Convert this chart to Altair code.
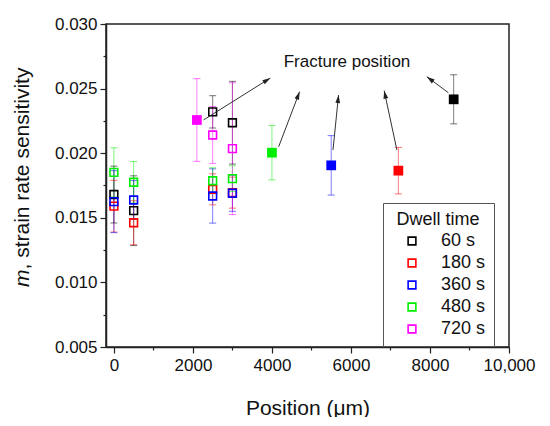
import math
import altair as alt
import pandas as pd

# ---------------- data ----------------
dwell = ["60 s", "180 s", "360 s", "480 s", "720 s"]
colors = ["#000000", "#ff0000", "#0000ff", "#00ee00", "#ff00ff"]

pos_open = [0, 500, 2500, 3000]
pos_720 = [2500, 3000]

m_60 = [0.0168, 0.01555, 0.0232, 0.02236]
e_60 = [0.0022, 0.0027, 0.00125, 0.0032]
m_180 = [0.0159, 0.01462, 0.0172, 0.01695]
e_180 = [0.0020, 0.0017, 0.0012, 0.0012]
m_360 = [0.01625, 0.01638, 0.01669, 0.0169]
e_360 = [0.0024, 0.0015, 0.0021, 0.0014]
m_480 = [0.01852, 0.01775, 0.01787, 0.01803]
e_480 = [0.0019, 0.0016, 0.0010, 0.0010]
m_720 = [0.02141, 0.02035]
e_720 = [0.0022, 0.0051]

# fracture position (filled squares)
frac_dwell = ["60 s", "180 s", "360 s", "480 s", "720 s"]
frac_pos = [8600, 7200, 5500, 4000, 2100]
frac_m = [0.02417, 0.01865, 0.01906, 0.02004, 0.02257]
frac_e = [0.0019, 0.0018, 0.0023, 0.0021, 0.0032]

# annotation arrows (from point towards label)
arr_x0 = [2267, 4170, 5545, 7162, 8466]
arr_y0 = [0.02257, 0.02050, 0.02025, 0.02025, 0.02468]
arr_x1 = [3960, 4700, 5686, 6841, 7920]
arr_y1 = [0.02582, 0.02476, 0.02450, 0.02484, 0.02592]

label_text = ["Fracture position"]
label_x = [5900]
label_y = [0.02708]

x_major = [0, 2000, 4000, 6000, 8000, 10000]
x_minor = [1000, 3000, 5000, 7000, 9000]
y_major = [0.005, 0.010, 0.015, 0.020, 0.025, 0.030]
y_minor = [0.0075, 0.0125, 0.0175, 0.0225, 0.0275]

X_DOM = [-200, 10000]
Y_DOM = [0.005, 0.030]
W, H = 403, 323

# ---------------- tables ----------------
rows = []
for d, ms, es, ps in [
    ("60 s", m_60, e_60, pos_open),
    ("180 s", m_180, e_180, pos_open),
    ("360 s", m_360, e_360, pos_open),
    ("480 s", m_480, e_480, pos_open),
    ("720 s", m_720, e_720, pos_720),
]:
    for p, m, e in zip(ps, ms, es):
        rows.append({"dwell": d, "pos": p, "m": m, "lo": m - e, "hi": m + e})
open_df = pd.DataFrame(rows)

frac_df = pd.DataFrame({
    "dwell": frac_dwell, "pos": frac_pos, "m": frac_m,
    "lo": [m - e for m, e in zip(frac_m, frac_e)],
    "hi": [m + e for m, e in zip(frac_m, frac_e)],
})
all_df = pd.concat([open_df, frac_df], ignore_index=True)

sx = W / (X_DOM[1] - X_DOM[0])
sy = H / (Y_DOM[1] - Y_DOM[0])
line_rows, head_rows = [], []
for i, (a, b, c, d) in enumerate(zip(arr_x0, arr_y0, arr_x1, arr_y1)):
    line_rows.append({"id": i, "o": 0, "x": a, "y": b})
    line_rows.append({"id": i, "o": 1, "x": c, "y": d})
    dx = (c - a) * sx
    dy = (d - b) * sy
    ang = math.degrees(math.atan2(dx, dy)) % 360
    head_rows.append({"x": c, "y": d, "ang": ang})
line_df = pd.DataFrame(line_rows)
head_df = pd.DataFrame(head_rows)
label_df = pd.DataFrame({"t": label_text, "x": label_x, "y": label_y})

# ---------------- chart ----------------
xs = alt.Scale(domain=X_DOM, nice=False, zero=False)
ys = alt.Scale(domain=Y_DOM, nice=False, zero=False)
cs_legend = alt.Scale(domain=dwell, range=colors)
# same mapping, listed in reverse so it stays a separate (legend-less) scale
cs_plain = alt.Scale(domain=dwell[::-1], range=colors[::-1])

x_axis = alt.Axis(values=x_major, title="Position (μm)", grid=False, labelFlush=False,
                  labelExpr="datum.value >= 10000 ? format(datum.value, ',') : format(datum.value, 'd')",
                  tickSize=6, labelPadding=4, titlePadding=24,
                  labelFontSize=17, titleFontSize=21)
y_axis = alt.Axis(values=y_major, title=", strain rate sensitivity", grid=False, labelFlush=False,
                  format=".3f", tickSize=6, labelPadding=3,
                  labelFontSize=17, titleFontSize=21,
                  titleX=-84, titleY=245, titleAngle=270, titleAlign="left",
                  titleBaseline="middle")

X = alt.X("pos:Q", scale=xs, axis=x_axis)
Y = alt.Y("m:Q", scale=ys, axis=y_axis)
C_plain = alt.Color("dwell:N", scale=cs_plain, legend=None)

legend = alt.Legend(title="Dwell time", orient="none", legendX=277, legendY=179,
                    strokeColor="#555", fillColor="white", padding=8,
                    titleFontSize=18, titleFontWeight="normal", titlePadding=3,
                    labelFontSize=18, labelAlign="left", symbolType="square", symbolSize=60,
                    symbolStrokeWidth=1.6, symbolOffset=12, labelOffset=20,
                    symbolOpacity=1, rowPadding=4, titleAnchor="middle")

base_all = alt.Chart(all_df)

err = base_all.mark_rule(strokeWidth=1, opacity=0.5).encode(
    x=X, y=alt.Y("lo:Q", scale=ys, axis=y_axis), y2="hi:Q", color=C_plain)
cap_lo = base_all.mark_tick(orient="horizontal", size=7, thickness=1, opacity=0.55).encode(
    x=X, y=alt.Y("lo:Q", scale=ys, axis=y_axis), color=C_plain)
cap_hi = base_all.mark_tick(orient="horizontal", size=7, thickness=1, opacity=0.55).encode(
    x=X, y=alt.Y("hi:Q", scale=ys, axis=y_axis), color=C_plain)

hollow = alt.Chart(open_df).mark_square(filled=False, size=60, strokeWidth=1.6, opacity=1).encode(
    x=X, y=Y, stroke=alt.Stroke("dwell:N", scale=cs_legend, legend=legend, sort=dwell))
filled = alt.Chart(frac_df).mark_square(filled=True, size=95, opacity=1).encode(
    x=X, y=Y, color=C_plain)

arrows = alt.Chart(line_df).mark_line(color="#333333", strokeWidth=1).encode(
    x=alt.X("x:Q", scale=xs, axis=x_axis), y=alt.Y("y:Q", scale=ys, axis=y_axis),
    detail="id:N", order="o:Q")
heads = alt.Chart(head_df).mark_point(
    shape="M0,0L-0.6,2L0.6,2Z", filled=True, color="#222222", size=64, opacity=1
).encode(x=alt.X("x:Q", scale=xs, axis=x_axis), y=alt.Y("y:Q", scale=ys, axis=y_axis),
         angle=alt.Angle("ang:Q", scale=None))

label = alt.Chart(label_df).mark_text(fontSize=17, color="#111111", align="center", baseline="middle").encode(
    x=alt.X("x:Q", scale=xs, axis=x_axis), y=alt.Y("y:Q", scale=ys, axis=y_axis), text="t:N")

minor_df = pd.DataFrame({"x": [0], "y": [0.01]})
minor = alt.Chart(minor_df).mark_point(opacity=0).encode(
    x=alt.X("x:Q", scale=xs, axis=alt.Axis(values=x_minor, labels=False, title=None, domain=False,
                                           grid=False, tickSize=3, orient="bottom")),
    y=alt.Y("y:Q", scale=ys, axis=alt.Axis(values=y_minor, labels=False, title="m", domain=False,
                                           grid=False, tickSize=3, orient="left",
                                           titleFontSize=21, titleFontStyle="italic",
                                           titleX=-84, titleY=245, titleAngle=270,
                                           titleAlign="right", titleBaseline="middle")),
)

main = alt.layer(err, cap_lo, cap_hi, hollow, filled, arrows, heads, label)

chart = alt.layer(main, minor).resolve_axis(x="independent", y="independent").properties(
    width=W, height=H,
    autosize=alt.AutoSizeParams(type="none"),
    padding={"left": 98, "top": 16, "right": 30, "bottom": 70},
).configure(font="Liberation Sans").configure_view(
    stroke="#222222", strokeWidth=1.5
).configure_axis(
    domainColor="#222222", domainWidth=1.5, tickColor="#222222", tickWidth=1.2,
    labelColor="#111111", titleColor="#111111", titleFontWeight="normal",
    labelFont="Liberation Sans", titleFont="Liberation Sans"
).configure_legend(labelFont="Liberation Sans", titleFont="Liberation Sans",
                   labelColor="#111111", titleColor="#111111")

chart.save("out.html", embed_options={"renderer": "svg", "actions": False})
